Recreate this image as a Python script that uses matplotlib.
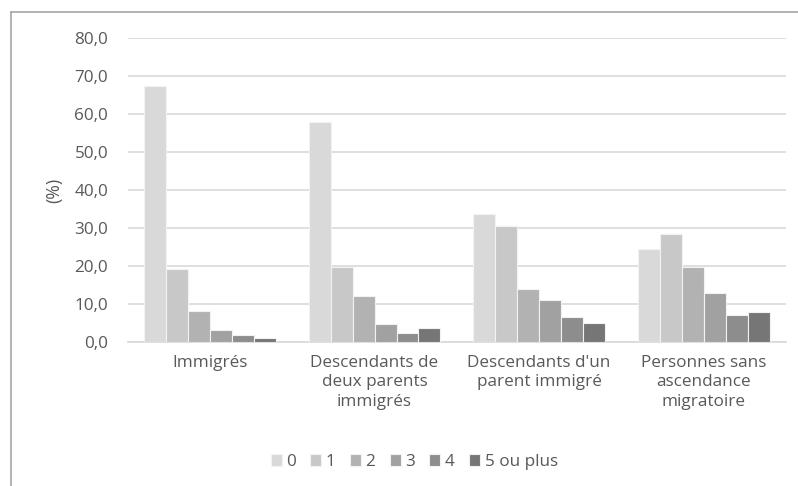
import numpy as np
import matplotlib as mpl
mpl.use('Agg')
import matplotlib.pyplot as plt
from matplotlib.lines import Line2D

mpl.rcParams['font.family'] = ['Open Sans', 'DejaVu Sans']

categories = ['Immigrés', 'Descendants de\ndeux parents\nimmigrés',
              "Descendants d'un\nparent immigré", 'Personnes sans\nascendance\nmigratoire']
series_names = ['0', '1', '2', '3', '4', '5 ou plus']
values = [
    [67.3, 57.9, 33.6, 24.6],
    [19.2, 19.8, 30.5, 28.4],
    [8.3, 12.2, 14.1, 19.8],
    [3.2, 4.8, 11.0, 13.0],
    [1.9, 2.5, 6.7, 7.1],
    [1.0, 3.6, 5.0, 7.9],
]
colors = ['#d9d9d9', '#c8c8c8', '#b2b2b2', '#a1a1a1', '#8d8d8d', '#767676']
yticks = np.arange(0, 81, 10)

text_color = '#595959'
fs = 12.3
fig = plt.figure(figsize=(7.98, 4.86), dpi=100)
ax = fig.add_axes([0.160, 0.296, 0.825, 0.626])

x = np.arange(len(categories))
n = len(series_names)
group_w = 0.8
w = group_w / n
for i, (name, vals) in enumerate(zip(series_names, values)):
    pos = x - group_w / 2 + w * (i + 0.5)
    ax.bar(pos, vals, width=w, color=colors[i], edgecolor='#f2f2f2',
           linewidth=0.8, label=name, zorder=3)

ax.set_xlim(-0.5, len(categories) - 0.5)
ax.set_ylim(0, 80)
ax.set_yticks(yticks)
ax.set_yticklabels([f'{t:.1f}'.replace('.', ',') for t in yticks])
ax.yaxis.grid(True, color='#d9d9d9', linewidth=1.2, zorder=0)
ax.set_axisbelow(True)
for s in ['top', 'right', 'left']:
    ax.spines[s].set_visible(False)
ax.spines['bottom'].set_color('#d9d9d9')
ax.spines['bottom'].set_linewidth(1.2)
ax.tick_params(axis='y', length=0, pad=14, labelsize=fs, labelcolor=text_color)
ax.tick_params(axis='x', length=0, pad=9, labelsize=fs, labelcolor=text_color)
ax.set_xticks(x)
ax.set_xticklabels(categories, linespacing=1.3, va='top')
ax.set_ylabel('(%)', fontsize=12.8, color=text_color)
ax.yaxis.set_label_coords(-0.098, 0.5)

fig.legend(loc='center', bbox_to_anchor=(0.519, 0.049), ncol=n, frameon=False,
           fontsize=fs, labelcolor=text_color, handlelength=0.65, handleheight=0.65,
           handletextpad=0.25, columnspacing=0.85)

# outer frame of the chart area
fig.add_artist(Line2D([10.5 / 798, 10.5 / 798], [0, 1 - 12 / 486], transform=fig.transFigure,
                      color='#a6a6a6', linewidth=1.2))
fig.add_artist(Line2D([10.5 / 798, 1], [1 - 12 / 486, 1 - 12 / 486], transform=fig.transFigure,
                      color='#a6a6a6', linewidth=1.2))

fig.savefig('out.png', dpi=100)
